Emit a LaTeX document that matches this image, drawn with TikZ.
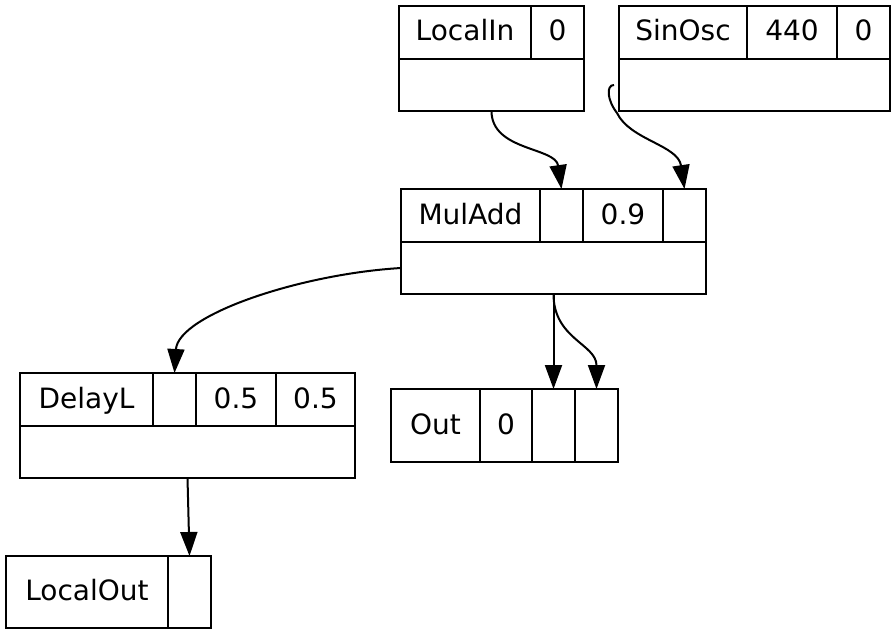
\documentclass[tikz,border=0pt]{standalone}
\usepackage{fontspec}
\setmainfont{DejaVu Sans}
\usetikzlibrary{arrows.meta, positioning}

\begin{document}
\begin{tikzpicture}[
    x=1pt, y=-1pt,
    node distance=0pt,
    font=\fontsize{28}{34}\selectfont,
    field/.style={rectangle, draw, line width=2pt, inner sep=0pt, outer sep=0pt, text height=21pt, text depth=4pt, minimum height=53pt, minimum width=#1},
    field/.default=43pt,
    line/.style={-{Triangle[length=24pt, width=17pt]}, line width=2pt}
]
\useasboundingbox (0,0) rectangle (896,634);
% LocalIn
\node[field=132pt, anchor=north west] (localin) at (399,6) {LocalIn};
\node[field=53pt, right=of localin] (localin-a) {0};
\node[field=185pt, minimum height=52pt, anchor=north west] (localin-out) at (localin.south west) {};
% SinOsc
\node[field=128pt, anchor=north west] (sinosc) at (619,6) {SinOsc};
\node[field=90pt, right=of sinosc] (sinosc-a) {440};
\node[field=53pt, right=of sinosc-a] (sinosc-b) {0};
\node[field=271pt, minimum height=52pt, anchor=north west] (sinosc-out) at (sinosc.south west) {};
% MulAdd
\node[field=139pt, anchor=north west] (muladd) at (401,189) {MulAdd};
\node[field, right=of muladd] (muladd-b) {};
\node[field=80pt, right=of muladd-b] (muladd-c) {0.9};
\node[field, right=of muladd-c] (muladd-d) {};
\node[field=305pt, minimum height=52pt, anchor=north west] (muladd-out) at (muladd.south west) {};
% DelayL
\node[field=133pt, anchor=north west] (delayl) at (20,373) {DelayL};
\node[field, right=of delayl] (delayl-b) {};
\node[field=80pt, right=of delayl-b] (delayl-c) {0.5};
\node[field=79pt, right=of delayl-c] (delayl-d) {0.5};
\node[field=335pt, minimum height=52pt, anchor=north west] (delayl-out) at (delayl.south west) {};
% Out
\node[field=89pt, minimum height=73pt, anchor=north west] (out) at (391,389) {Out};
\node[field=52pt, minimum height=73pt, right=of out] (out-b) {0};
\node[field, minimum height=73pt, right=of out-b] (out-c) {};
\node[field, minimum height=73pt, right=of out-c] (out-d) {};
% LocalOut
\node[field=162pt, minimum height=72pt, anchor=north west] (localout) at (6,556) {LocalOut};
\node[field, minimum height=72pt, right=of localout] (localout-b) {};

\draw[line] (localin-out.south) .. controls +(0,40) and +(-6,-42) .. (muladd-b.north);
\draw[line] ([xshift=-5pt]sinosc-out.west) .. controls (606,85) and (607,100) .. (617,113)
    .. controls (630,140) and (678,145) .. (muladd-d.north);
\draw[line] (muladd-out.west) .. controls (300,274) and (178,315) .. (delayl-b.north);
\draw[line] (muladd-out.south) -- (out-c.north);
\draw[line] (muladd-out.south) .. controls +(0,45) and +(0,-45) .. (out-d.north);
\draw[line] (delayl-out.south) -- (localout-b.north);
\end{tikzpicture}
\end{document}
